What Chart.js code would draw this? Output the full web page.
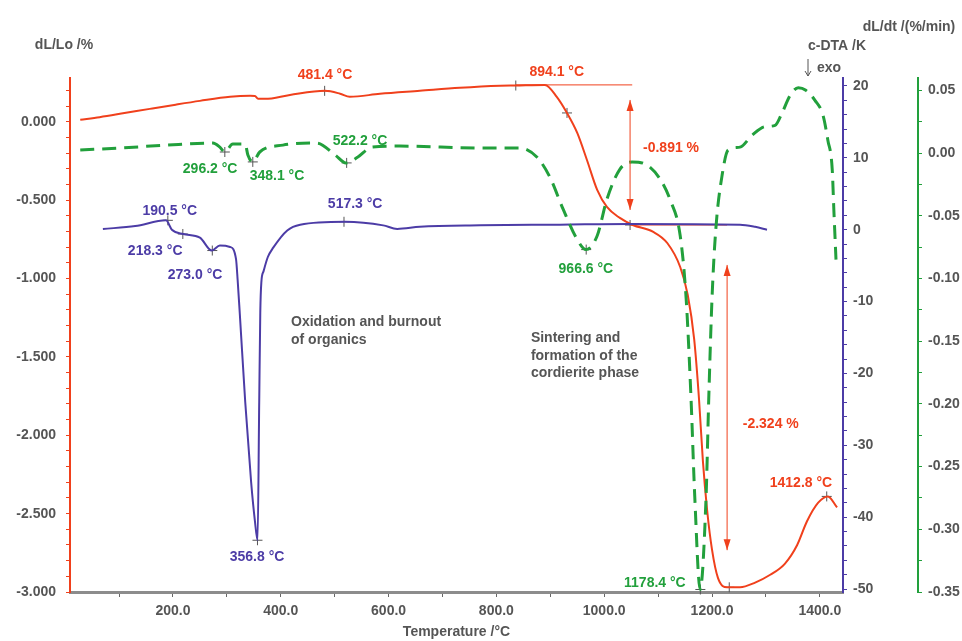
<!DOCTYPE html>
<html>
<head>
<meta charset="utf-8">
<script src="https://cdn.jsdelivr.net/npm/chart.js@4.4.1/dist/chart.umd.min.js"></script>
<style>
  html, body { margin: 0; padding: 0; background: #fff; }
</style>
</head>
<body>
<canvas id="chart" width="962" height="641"></canvas>
<script>
const RED = "#f0401c", PURPLE = "#4c3ca6", GREEN = "#22a03c", GREY = "#555";
const FONT = "'Liberation Sans', Arial, sans-serif";

// dL/Lo (%) - left axis
const dlTemp = [28, 64, 110, 157, 205, 250, 306, 343, 352, 358, 371, 417, 482, 510, 528, 584, 658, 732, 807, 836, 890,
  912, 931, 950, 968, 987, 1005, 1029, 1053, 1091, 1117, 1141, 1155, 1167, 1176, 1183, 1191, 1200, 1211, 1228,
  1252, 1280, 1308, 1335, 1358, 1376, 1397, 1415, 1432];
const dlVal = [0.013, 0.03, 0.056, 0.083, 0.11, 0.134, 0.16, 0.166, 0.165, 0.147, 0.147, 0.172, 0.198, 0.18, 0.16, 0.179, 0.198, 0.217, 0.23, 0.232, 0.236,
  0.16, 0.057, -0.07, -0.243, -0.434, -0.543, -0.613, -0.658, -0.702, -0.773, -0.926, -1.105, -1.39, -1.775, -2.16, -2.48, -2.73, -2.91, -2.97,
  -2.97, -2.94, -2.89, -2.82, -2.70, -2.55, -2.43, -2.39, -2.46];

// c-DTA (K) - first right axis
const dtaTemp = [70, 130, 187, 198, 219, 250, 272, 287, 306, 317, 320, 324, 334, 345, 352, 357, 360, 362, 364, 368, 376, 386, 412, 436,
  519, 590, 616, 658, 770, 918, 1048, 1252, 1280, 1302];
const dtaVal = [0.1, 0.5, 1.3, 0, -0.6, -1.1, -2.9, -2.2, -2.4, -4.1, -7, -11.7, -23.9, -35.1, -40.5, -43.2, -24, -11.5, -7.3, -5.8, -3.8, -2.5, -0.1, 0.7,
  1.1, 0.6, 0.1, 0.4, 0.6, 0.7, 0.8, 0.7, 0.4, 0];

// dL/dt (%/min) - second right axis
const dtTemp = [28, 102, 189, 274, 287, 296, 311, 334, 339, 348, 361, 404, 467, 501, 521, 543, 569, 621, 770, 844, 875, 899, 924, 950, 966,
  987, 1005, 1029, 1052, 1079, 1104, 1122, 1141, 1152, 1161, 1168, 1178, 1189, 1194, 1200, 1207, 1219, 1230, 1252, 1274, 1298, 1317,
  1330, 1345, 1360, 1374, 1391, 1406, 1415, 1423, 1426, 1430];
const dtVal = [0.0024, 0.004, 0.0063, 0.0079, 0.0047, 0.0008, 0.0071, 0.0071, -0.0016, -0.0071, 0.0008, 0.0063, 0.0079, -0.0016, -0.0079, -0.0032, 0.0047, 0.0055, 0.004, 0.004, -0.0032, -0.019, -0.045, -0.069, -0.077,
  -0.066, -0.037, -0.013, -0.0071, -0.0095, -0.021, -0.037, -0.066, -0.116, -0.195, -0.274, -0.348, -0.274, -0.195, -0.116, -0.061, -0.017, 0.0024, 0.0047, 0.014, 0.021, 0.022,
  0.032, 0.046, 0.052, 0.050, 0.042, 0.030, 0.010, -0.013, -0.045, -0.085];

// marked points
const dlMarkT = [481.4, 836, 931, 1048, 1232, 1412.8];
const dlMarkV = [0.198, 0.232, 0.057, -0.658, -2.97, -2.39];
const dtaMarkT = [190.5, 218.3, 273.0, 356.8, 517.3];
const dtaMarkV = [1.3, -0.6, -2.9, -43.2, 1.1];
const dtMarkT = [296.2, 348.1, 522.2, 966.6, 1178.4];
const dtMarkV = [0.0008, -0.0071, -0.0079, -0.077, -0.348];

// step lines and arrows on dL/Lo
const stepTopT = [836, 1052], stepTopV = [0.236, 0.236];
const stepLowT = [1048, 1228], stepLowV = [-0.658, -0.658];
const arrowT = [1048, 1228];
const arrowFrom = [0.14, -0.913];
const arrowTo = [-0.562, -2.733];

// tick labels
const xTicks = [100, 200, 300, 400, 500, 600, 700, 800, 900, 1000, 1100, 1200, 1300, 1400];

const notes = [
  { text: "481.4 °C", t: 482, v: 0.300, axis: "y", color: RED },
  { text: "894.1 °C", t: 912, v: 0.319, axis: "y", color: RED },
  { text: "-0.891 %", t: 1124, v: -0.166, axis: "y", color: RED },
  { text: "-2.324 %", t: 1309, v: -1.928, axis: "y", color: RED },
  { text: "1412.8 °C", t: 1365, v: -2.305, axis: "y", color: RED },
  { text: "296.2 °C", t: 269, v: -0.0127, axis: "y3", color: GREEN },
  { text: "348.1 °C", t: 393, v: -0.0183, axis: "y3", color: GREEN },
  { text: "522.2 °C", t: 547, v: 0.0095, axis: "y3", color: GREEN },
  { text: "966.6 °C", t: 966, v: -0.0929, axis: "y3", color: GREEN },
  { text: "1178.4 °C", t: 1094, v: -0.343, axis: "y3", color: GREEN },
  { text: "190.5 °C", t: 194, v: 2.6, axis: "y2", color: PURPLE },
  { text: "218.3 °C", t: 167, v: -2.96, axis: "y2", color: PURPLE },
  { text: "273.0 °C", t: 241, v: -6.3, axis: "y2", color: PURPLE },
  { text: "517.3 °C", t: 538, v: 3.57, axis: "y2", color: PURPLE },
  { text: "356.8 °C", t: 356, v: -45.5, axis: "y2", color: PURPLE },
  { text: "Oxidation and burnout", t: 419, v: -1.277, axis: "y", color: GREY, left: true },
  { text: "of organics", t: 419, v: -1.392, axis: "y", color: GREY, left: true },
  { text: "Sintering and", t: 864, v: -1.379, axis: "y", color: GREY, left: true },
  { text: "formation of the", t: 864, v: -1.494, axis: "y", color: GREY, left: true },
  { text: "cordierite phase", t: 864, v: -1.603, axis: "y", color: GREY, left: true }
];

const pts = (xs, ys) => xs.map((x, i) => ({ x: x, y: ys[i] }));
const range = (a, b) => { const r = []; for (let i = a; i <= b; i++) r.push(i); return r; };

function markers(xs, ys, axis) {
  return {
    data: pts(xs, ys), yAxisID: axis, showLine: false,
    pointStyle: "cross", pointRadius: 5, pointBorderColor: "#555", pointBorderWidth: 1, clip: false
  };
}

const tickFont = { family: FONT, size: 14, weight: "bold" };

const extras = {
  id: "extras",
  afterDatasetsDraw(chart) {
    const ctx = chart.ctx, x = chart.scales.x, y = chart.scales.y;
    ctx.save();
    // arrows
    ctx.strokeStyle = RED; ctx.fillStyle = RED; ctx.lineWidth = 1;
    arrowT.forEach((t, i) => {
      const px = x.getPixelForValue(t);
      const a = y.getPixelForValue(arrowFrom[i]), b = y.getPixelForValue(arrowTo[i]);
      ctx.beginPath(); ctx.moveTo(px, a); ctx.lineTo(px, b); ctx.stroke();
      [[a, 1], [b, -1]].forEach(([py, d]) => {
        ctx.beginPath();
        ctx.moveTo(px, py); ctx.lineTo(px - 3.5, py + d * 11); ctx.lineTo(px + 3.5, py + d * 11);
        ctx.closePath(); ctx.fill();
      });
    });
    // notes
    ctx.font = "bold 14px " + FONT;
    ctx.textBaseline = "middle";
    notes.forEach(n => {
      ctx.fillStyle = n.color;
      ctx.textAlign = n.left ? "left" : "center";
      ctx.fillText(n.text, x.getPixelForValue(n.t), chart.scales[n.axis].getPixelForValue(n.v));
    });
    // axis titles at the top
    const area = chart.chartArea;
    ctx.fillStyle = GREY;
    ctx.textAlign = "center";
    ctx.fillText("dL/Lo /%", area.left - 6, 45);
    ctx.fillText("c-DTA /K", area.right - 6, 46);
    ctx.fillText("exo", area.right - 14, 68);
    ctx.fillText("dL/dt /(%/min)", area.right + 66, 27);
    // exo arrow
    ctx.strokeStyle = GREY; ctx.lineWidth = 1;
    const ax = area.right - 35;
    ctx.beginPath(); ctx.moveTo(ax, 59); ctx.lineTo(ax, 76);
    ctx.moveTo(ax - 3, 71); ctx.lineTo(ax, 76); ctx.lineTo(ax + 3, 71); ctx.stroke();
    ctx.restore();
  }
};

new Chart(document.getElementById("chart"), {
  type: "scatter",
  data: {
    datasets: [
      { data: pts(dtTemp, dtVal), yAxisID: "y3", showLine: true, borderColor: GREEN, borderWidth: 3,
        borderDash: [14, 8], pointRadius: 0, cubicInterpolationMode: "monotone" },
      { data: pts(dtaTemp, dtaVal), yAxisID: "y2", showLine: true, borderColor: PURPLE, borderWidth: 2,
        pointRadius: 0, cubicInterpolationMode: "monotone" },
      { data: pts(stepTopT, stepTopV), yAxisID: "y", showLine: true, borderColor: RED, borderWidth: 1, pointRadius: 0 },
      { data: pts(stepLowT, stepLowV), yAxisID: "y", showLine: true, borderColor: RED, borderWidth: 1, pointRadius: 0 },
      { data: pts(dlTemp, dlVal), yAxisID: "y", showLine: true, borderColor: RED, borderWidth: 2,
        pointRadius: 0, cubicInterpolationMode: "monotone" },
      markers(dlMarkT, dlMarkV, "y"),
      markers(dtaMarkT, dtaMarkV, "y2"),
      markers(dtMarkT, dtMarkV, "y3")
    ]
  },
  options: {
    responsive: false,
    animation: false,
    layout: { padding: { top: 78 } },
    plugins: { legend: { display: false }, tooltip: { enabled: false } },
    scales: {
      x: {
        type: "linear", position: "bottom", min: 9, max: 1443,
        afterBuildTicks: s => { s.ticks = xTicks.map(v => ({ value: v })); },
        afterFit: s => { s.height = 49; },
        ticks: { autoSkip: false, maxRotation: 0, color: GREY, font: tickFont, padding: 6,
          callback: v => (v % 200 === 0 ? v.toFixed(1) : "") },
        grid: { drawOnChartArea: false, tickLength: 5, tickColor: "#666" },
        border: { color: "#8c8c8c", width: 3 },
        title: { display: true, text: "Temperature /°C", color: GREY, font: tickFont, padding: { top: 0, bottom: 0 } }
      },
      y: {
        position: "left", min: -3, max: 0.28,
        afterBuildTicks: s => { s.ticks = range(-30, 2).map(i => ({ value: i / 10 })); },
        afterFit: s => { s.width = 70; },
        ticks: { autoSkip: false, color: GREY, font: tickFont, padding: 10,
          callback: v => { const i = Math.round(v * 10); return i % 5 === 0 ? (i / 10).toFixed(3) : ""; } },
        grid: { drawOnChartArea: false, tickLength: 4, tickColor: RED },
        border: { color: RED, width: 2 }
      },
      y2: {
        position: "right", weight: 0, min: -50.4, max: 21.1,
        afterBuildTicks: s => { s.ticks = range(-25, 10).map(i => ({ value: i * 2 })); },
        afterFit: s => { s.width = 75; },
        ticks: { autoSkip: false, color: GREY, font: tickFont, padding: 6,
          callback: v => (Math.round(v) % 10 === 0 ? String(Math.round(v)) : "") },
        grid: { drawOnChartArea: false, tickLength: 4, tickColor: PURPLE },
        border: { color: PURPLE, width: 2 }
      },
      y3: {
        position: "right", weight: 1, min: -0.35, max: 0.0598,
        afterBuildTicks: s => { s.ticks = range(-14, 2).map(i => ({ value: i * 0.025 })); },
        afterFit: s => { s.width = 44; },
        ticks: { autoSkip: false, color: GREY, font: tickFont, padding: 6,
          callback: v => { const i = Math.round(v / 0.025); return i % 2 === 0 ? (i * 0.025).toFixed(2) : ""; } },
        grid: { drawOnChartArea: false, tickLength: 4, tickColor: GREEN },
        border: { color: GREEN, width: 2 }
      }
    }
  },
  plugins: [extras]
});
</script>
</body>
</html>
